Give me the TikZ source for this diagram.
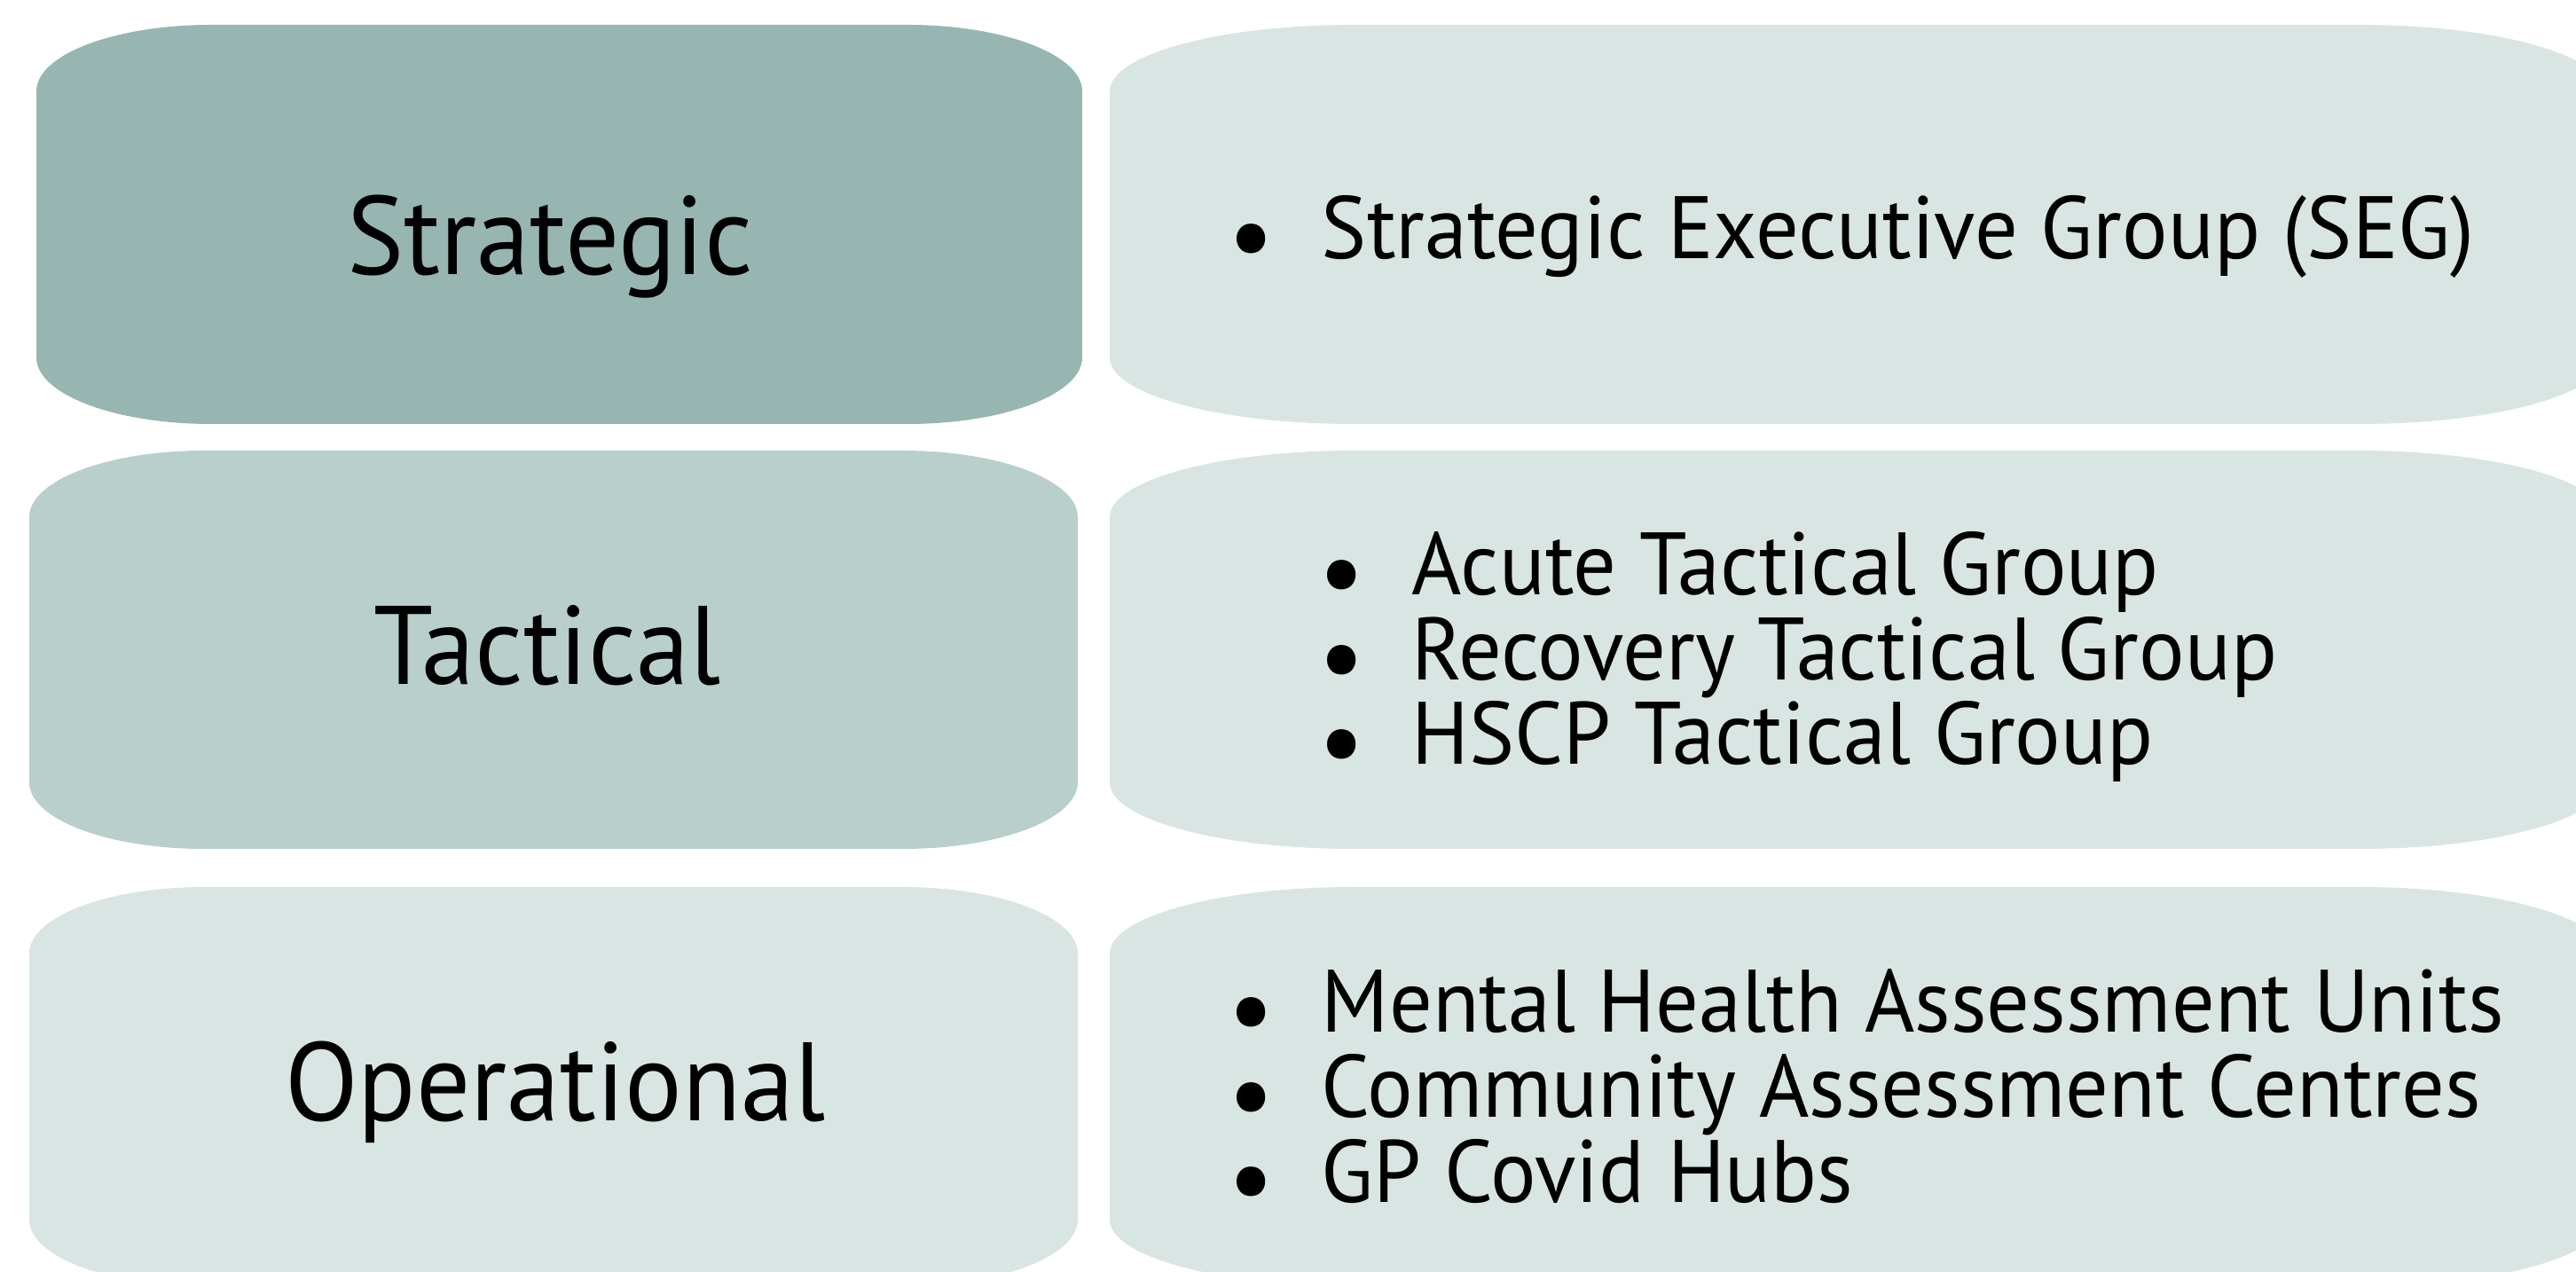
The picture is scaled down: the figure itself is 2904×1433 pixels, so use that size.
\documentclass[tikz,border=0pt]{standalone}
\usepackage{fontspec}
\setmainfont{PT Sans}

\definecolor{stratfill}{HTML}{97B6B1}
\definecolor{tactfill}{HTML}{B9CFCC}
\definecolor{palefill}{HTML}{D9E5E3}

% box with elliptic corners: x1,y1,x2,y2,rx,ry,colour
\newcommand{\tierbox}[7]{%
\fill[#7] (#1+#5,#2) -- (#3-#5,#2) arc[start angle=-90,end angle=0,x radius=#5,y radius=#6]
 -- (#3,#4-#6) arc[start angle=0,end angle=90,x radius=#5,y radius=#6]
 -- (#1+#5,#4) arc[start angle=90,end angle=180,x radius=#5,y radius=#6]
 -- (#1,#2+#6) arc[start angle=180,end angle=270,x radius=#5,y radius=#6] -- cycle;}
\newcommand{\bul}[1]{\makebox[10.9mm][l]{\raisebox{-0.3ex}{\scalebox{1.2}{\textbullet}}}#1}

\tikzset{
  tierlabel/.style={font=\fontsize{35.8}{40}\selectfont, anchor=base, inner sep=0pt, xscale=0.96, transform shape},
  itemtext/.style={font=\fontsize{28.4}{27.3}\selectfont, align=left, anchor=base west, inner sep=0pt, xscale=0.965, transform shape}
}

\begin{document}
\begin{tikzpicture}[x=0.1mm,y=0.1mm]
\useasboundingbox (0,0) rectangle (2904,1433);
\clip (0,0) rectangle (2904,1433);
% left column
\tierbox{41}{955}{1220}{1405}{197}{75}{stratfill}
\tierbox{33}{476}{1215}{925}{197}{75}{tactfill}
\tierbox{33}{-17}{1215}{433}{197}{75}{palefill}
% right column
\tierbox{1251}{955}{2935}{1405}{275}{75}{palefill}
\tierbox{1251}{476}{2935}{925}{275}{75}{palefill}
\tierbox{1251}{-17}{2935}{433}{275}{75}{palefill}
% tiers
\node[tierlabel] (strat) at (620,1123) {Strategic};
\node[tierlabel] (tact) at (617,661) {Tactical};
\node[tierlabel] (oper) at (626,170) {Operational};
% groups (base = last line)
\node[itemtext] (seg) at (1384,1141) {\bul{Strategic Executive Group (SEG)}};
\node[itemtext] (tactgroups) at (1486,571) {\bul{Acute Tactical Group}\\
  \bul{Recovery Tactical Group}\\
  \bul{HSCP Tactical Group}};
\node[itemtext] (opergroups) at (1384,78) {\bul{Mental Health Assessment Units}\\
  \bul{Community Assessment Centres}\\
  \bul{GP Covid Hubs}};
\end{tikzpicture}
\end{document}
